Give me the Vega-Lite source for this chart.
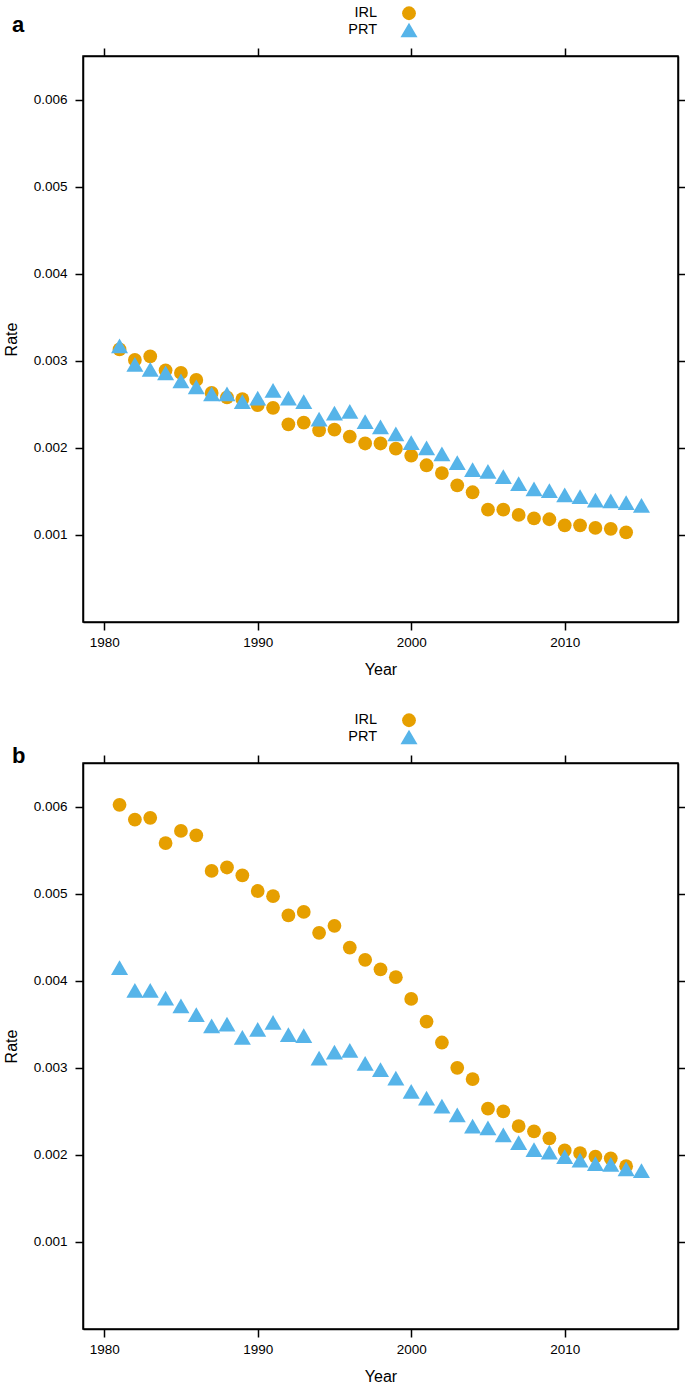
{
  "$schema": "https://vega.github.io/schema/vega-lite/v6.json",
  "background": "white",
  "padding": {"left": 2, "top": 5, "right": 0, "bottom": 0},
  "spacing": 33,
  "config": {
    "font": "Liberation Sans",
    "view": {"stroke": "black", "strokeWidth": 1.5},
    "axis": {"domainColor": "black", "domainWidth": 1.5, "tickColor": "black", "tickWidth": 1.5, "tickSize": 8, "grid": false, "labelFont": "Liberation Sans", "labelFontSize": 13.5, "labelColor": "black", "titleFont": "Liberation Sans", "titleFontSize": 16, "titleFontWeight": "normal", "titleColor": "black"},
    "legend": {"padding": 0}
  },
  "datasets": {
    "rates": [
      {"panel": "a", "country": "IRL", "year": 1981, "rate": 0.00313},
      {"panel": "a", "country": "IRL", "year": 1982, "rate": 0.00301},
      {"panel": "a", "country": "IRL", "year": 1983, "rate": 0.00305},
      {"panel": "a", "country": "IRL", "year": 1984, "rate": 0.00289},
      {"panel": "a", "country": "IRL", "year": 1985, "rate": 0.00286},
      {"panel": "a", "country": "IRL", "year": 1986, "rate": 0.00278},
      {"panel": "a", "country": "IRL", "year": 1987, "rate": 0.00263},
      {"panel": "a", "country": "IRL", "year": 1988, "rate": 0.00258},
      {"panel": "a", "country": "IRL", "year": 1989, "rate": 0.00256},
      {"panel": "a", "country": "IRL", "year": 1990, "rate": 0.00249},
      {"panel": "a", "country": "IRL", "year": 1991, "rate": 0.00246},
      {"panel": "a", "country": "IRL", "year": 1992, "rate": 0.00227},
      {"panel": "a", "country": "IRL", "year": 1993, "rate": 0.00229},
      {"panel": "a", "country": "IRL", "year": 1994, "rate": 0.00220},
      {"panel": "a", "country": "IRL", "year": 1995, "rate": 0.00221},
      {"panel": "a", "country": "IRL", "year": 1996, "rate": 0.00213},
      {"panel": "a", "country": "IRL", "year": 1997, "rate": 0.00205},
      {"panel": "a", "country": "IRL", "year": 1998, "rate": 0.00205},
      {"panel": "a", "country": "IRL", "year": 1999, "rate": 0.00199},
      {"panel": "a", "country": "IRL", "year": 2000, "rate": 0.00191},
      {"panel": "a", "country": "IRL", "year": 2001, "rate": 0.00180},
      {"panel": "a", "country": "IRL", "year": 2002, "rate": 0.00171},
      {"panel": "a", "country": "IRL", "year": 2003, "rate": 0.00157},
      {"panel": "a", "country": "IRL", "year": 2004, "rate": 0.00149},
      {"panel": "a", "country": "IRL", "year": 2005, "rate": 0.00129},
      {"panel": "a", "country": "IRL", "year": 2006, "rate": 0.00129},
      {"panel": "a", "country": "IRL", "year": 2007, "rate": 0.00123},
      {"panel": "a", "country": "IRL", "year": 2008, "rate": 0.00119},
      {"panel": "a", "country": "IRL", "year": 2009, "rate": 0.00118},
      {"panel": "a", "country": "IRL", "year": 2010, "rate": 0.00111},
      {"panel": "a", "country": "IRL", "year": 2011, "rate": 0.00111},
      {"panel": "a", "country": "IRL", "year": 2012, "rate": 0.00108},
      {"panel": "a", "country": "IRL", "year": 2013, "rate": 0.00107},
      {"panel": "a", "country": "IRL", "year": 2014, "rate": 0.00103},
      {"panel": "a", "country": "PRT", "year": 1981, "rate": 0.00317},
      {"panel": "a", "country": "PRT", "year": 1982, "rate": 0.00296},
      {"panel": "a", "country": "PRT", "year": 1983, "rate": 0.00290},
      {"panel": "a", "country": "PRT", "year": 1984, "rate": 0.00286},
      {"panel": "a", "country": "PRT", "year": 1985, "rate": 0.00277},
      {"panel": "a", "country": "PRT", "year": 1986, "rate": 0.00270},
      {"panel": "a", "country": "PRT", "year": 1987, "rate": 0.00262},
      {"panel": "a", "country": "PRT", "year": 1988, "rate": 0.00262},
      {"panel": "a", "country": "PRT", "year": 1989, "rate": 0.00253},
      {"panel": "a", "country": "PRT", "year": 1990, "rate": 0.00257},
      {"panel": "a", "country": "PRT", "year": 1991, "rate": 0.00266},
      {"panel": "a", "country": "PRT", "year": 1992, "rate": 0.00257},
      {"panel": "a", "country": "PRT", "year": 1993, "rate": 0.00253},
      {"panel": "a", "country": "PRT", "year": 1994, "rate": 0.00233},
      {"panel": "a", "country": "PRT", "year": 1995, "rate": 0.00240},
      {"panel": "a", "country": "PRT", "year": 1996, "rate": 0.00242},
      {"panel": "a", "country": "PRT", "year": 1997, "rate": 0.00230},
      {"panel": "a", "country": "PRT", "year": 1998, "rate": 0.00224},
      {"panel": "a", "country": "PRT", "year": 1999, "rate": 0.00216},
      {"panel": "a", "country": "PRT", "year": 2000, "rate": 0.00206},
      {"panel": "a", "country": "PRT", "year": 2001, "rate": 0.00200},
      {"panel": "a", "country": "PRT", "year": 2002, "rate": 0.00193},
      {"panel": "a", "country": "PRT", "year": 2003, "rate": 0.00183},
      {"panel": "a", "country": "PRT", "year": 2004, "rate": 0.00175},
      {"panel": "a", "country": "PRT", "year": 2005, "rate": 0.00173},
      {"panel": "a", "country": "PRT", "year": 2006, "rate": 0.00167},
      {"panel": "a", "country": "PRT", "year": 2007, "rate": 0.00159},
      {"panel": "a", "country": "PRT", "year": 2008, "rate": 0.00153},
      {"panel": "a", "country": "PRT", "year": 2009, "rate": 0.00151},
      {"panel": "a", "country": "PRT", "year": 2010, "rate": 0.00146},
      {"panel": "a", "country": "PRT", "year": 2011, "rate": 0.00144},
      {"panel": "a", "country": "PRT", "year": 2012, "rate": 0.00140},
      {"panel": "a", "country": "PRT", "year": 2013, "rate": 0.00139},
      {"panel": "a", "country": "PRT", "year": 2014, "rate": 0.00137},
      {"panel": "a", "country": "PRT", "year": 2015, "rate": 0.00134},
      {"panel": "b", "country": "IRL", "year": 1981, "rate": 0.00602},
      {"panel": "b", "country": "IRL", "year": 1982, "rate": 0.00585},
      {"panel": "b", "country": "IRL", "year": 1983, "rate": 0.00587},
      {"panel": "b", "country": "IRL", "year": 1984, "rate": 0.00558},
      {"panel": "b", "country": "IRL", "year": 1985, "rate": 0.00572},
      {"panel": "b", "country": "IRL", "year": 1986, "rate": 0.00567},
      {"panel": "b", "country": "IRL", "year": 1987, "rate": 0.00526},
      {"panel": "b", "country": "IRL", "year": 1988, "rate": 0.00530},
      {"panel": "b", "country": "IRL", "year": 1989, "rate": 0.00521},
      {"panel": "b", "country": "IRL", "year": 1990, "rate": 0.00503},
      {"panel": "b", "country": "IRL", "year": 1991, "rate": 0.00497},
      {"panel": "b", "country": "IRL", "year": 1992, "rate": 0.00475},
      {"panel": "b", "country": "IRL", "year": 1993, "rate": 0.00479},
      {"panel": "b", "country": "IRL", "year": 1994, "rate": 0.00455},
      {"panel": "b", "country": "IRL", "year": 1995, "rate": 0.00463},
      {"panel": "b", "country": "IRL", "year": 1996, "rate": 0.00438},
      {"panel": "b", "country": "IRL", "year": 1997, "rate": 0.00424},
      {"panel": "b", "country": "IRL", "year": 1998, "rate": 0.00413},
      {"panel": "b", "country": "IRL", "year": 1999, "rate": 0.00404},
      {"panel": "b", "country": "IRL", "year": 2000, "rate": 0.00379},
      {"panel": "b", "country": "IRL", "year": 2001, "rate": 0.00353},
      {"panel": "b", "country": "IRL", "year": 2002, "rate": 0.00329},
      {"panel": "b", "country": "IRL", "year": 2003, "rate": 0.00300},
      {"panel": "b", "country": "IRL", "year": 2004, "rate": 0.00287},
      {"panel": "b", "country": "IRL", "year": 2005, "rate": 0.00253},
      {"panel": "b", "country": "IRL", "year": 2006, "rate": 0.00250},
      {"panel": "b", "country": "IRL", "year": 2007, "rate": 0.00233},
      {"panel": "b", "country": "IRL", "year": 2008, "rate": 0.00227},
      {"panel": "b", "country": "IRL", "year": 2009, "rate": 0.00219},
      {"panel": "b", "country": "IRL", "year": 2010, "rate": 0.00205},
      {"panel": "b", "country": "IRL", "year": 2011, "rate": 0.00202},
      {"panel": "b", "country": "IRL", "year": 2012, "rate": 0.00198},
      {"panel": "b", "country": "IRL", "year": 2013, "rate": 0.00196},
      {"panel": "b", "country": "IRL", "year": 2014, "rate": 0.00187},
      {"panel": "b", "country": "PRT", "year": 1981, "rate": 0.00415},
      {"panel": "b", "country": "PRT", "year": 1982, "rate": 0.00389},
      {"panel": "b", "country": "PRT", "year": 1983, "rate": 0.00389},
      {"panel": "b", "country": "PRT", "year": 1984, "rate": 0.00380},
      {"panel": "b", "country": "PRT", "year": 1985, "rate": 0.00371},
      {"panel": "b", "country": "PRT", "year": 1986, "rate": 0.00361},
      {"panel": "b", "country": "PRT", "year": 1987, "rate": 0.00348},
      {"panel": "b", "country": "PRT", "year": 1988, "rate": 0.00350},
      {"panel": "b", "country": "PRT", "year": 1989, "rate": 0.00335},
      {"panel": "b", "country": "PRT", "year": 1990, "rate": 0.00344},
      {"panel": "b", "country": "PRT", "year": 1991, "rate": 0.00352},
      {"panel": "b", "country": "PRT", "year": 1992, "rate": 0.00338},
      {"panel": "b", "country": "PRT", "year": 1993, "rate": 0.00337},
      {"panel": "b", "country": "PRT", "year": 1994, "rate": 0.00311},
      {"panel": "b", "country": "PRT", "year": 1995, "rate": 0.00318},
      {"panel": "b", "country": "PRT", "year": 1996, "rate": 0.00320},
      {"panel": "b", "country": "PRT", "year": 1997, "rate": 0.00305},
      {"panel": "b", "country": "PRT", "year": 1998, "rate": 0.00298},
      {"panel": "b", "country": "PRT", "year": 1999, "rate": 0.00288},
      {"panel": "b", "country": "PRT", "year": 2000, "rate": 0.00273},
      {"panel": "b", "country": "PRT", "year": 2001, "rate": 0.00265},
      {"panel": "b", "country": "PRT", "year": 2002, "rate": 0.00256},
      {"panel": "b", "country": "PRT", "year": 2003, "rate": 0.00246},
      {"panel": "b", "country": "PRT", "year": 2004, "rate": 0.00233},
      {"panel": "b", "country": "PRT", "year": 2005, "rate": 0.00231},
      {"panel": "b", "country": "PRT", "year": 2006, "rate": 0.00223},
      {"panel": "b", "country": "PRT", "year": 2007, "rate": 0.00214},
      {"panel": "b", "country": "PRT", "year": 2008, "rate": 0.00206},
      {"panel": "b", "country": "PRT", "year": 2009, "rate": 0.00203},
      {"panel": "b", "country": "PRT", "year": 2010, "rate": 0.00198},
      {"panel": "b", "country": "PRT", "year": 2011, "rate": 0.00194},
      {"panel": "b", "country": "PRT", "year": 2012, "rate": 0.00190},
      {"panel": "b", "country": "PRT", "year": 2013, "rate": 0.00189},
      {"panel": "b", "country": "PRT", "year": 2014, "rate": 0.00184},
      {"panel": "b", "country": "PRT", "year": 2015, "rate": 0.00182}
    ]
  },
  "resolve": {"legend": {"color": "independent", "shape": "independent", "size": "independent"}},
  "vconcat": [
    {
      "width": 595,
      "height": 566,
      "title": {"text": "a", "anchor": "start", "frame": "group", "dx": -71, "dy": 39, "offset": 8, "fontSize": 22, "fontWeight": "bold", "font": "Liberation Sans", "color": "black"},
      "data": {"name": "rates"},
      "transform": [{"filter": "datum.panel === 'a'"}],
      "resolve": {"axis": {"x": "independent", "y": "independent"}},
      "layer": [
        {
          "mark": {"type": "point", "filled": true, "opacity": 1},
          "encoding": {
            "x": {"field": "year", "type": "quantitative", "scale": {"domain": [1978.62, 2017.38], "nice": false, "zero": false}, "axis": {"orient": "bottom", "values": [1980, 1990, 2000, 2010], "format": "d", "title": "Year", "labelPadding": 5, "titlePadding": 13}},
            "y": {"field": "rate", "type": "quantitative", "scale": {"domain": [0, 0.0065], "nice": false, "zero": false}, "axis": {"orient": "left", "values": [0.001, 0.002, 0.003, 0.004, 0.005, 0.006], "format": ".3f", "title": "Rate", "labelPadding": 8, "titlePadding": 14}},
            "color": {"field": "country", "type": "nominal", "scale": {"domain": ["IRL", "PRT"], "range": ["#E69F00", "#56B4E9"]}, "legend": {"orient": "none", "legendX": 317, "legendY": -50, "title": null, "labelAlign": "right", "labelOffset": -41, "labelFontSize": 14.5, "labelColor": "black", "symbolStrokeWidth": 0, "rowPadding": -2}},
            "shape": {"field": "country", "type": "nominal", "scale": {"domain": ["IRL", "PRT"], "range": ["circle", "triangle-up"]}, "legend": {"orient": "none", "legendX": 317, "legendY": -50, "title": null, "labelAlign": "right", "labelOffset": -41, "labelFontSize": 14.5, "labelColor": "black", "symbolStrokeWidth": 0, "rowPadding": -2}},
            "size": {"field": "country", "type": "nominal", "scale": {"domain": ["IRL", "PRT"], "range": [190, 290]}, "legend": {"orient": "none", "legendX": 317, "legendY": -50, "title": null, "labelAlign": "right", "labelOffset": -41, "labelFontSize": 14.5, "labelColor": "black", "symbolStrokeWidth": 0, "rowPadding": -2}}
          }
        },
        {
          "mark": {"type": "point", "opacity": 0},
          "encoding": {
            "x": {"field": "year", "type": "quantitative", "axis": {"orient": "top", "values": [1980, 1990, 2000, 2010], "labels": false, "title": null}},
            "y": {"field": "rate", "type": "quantitative", "axis": {"orient": "right", "values": [0.001, 0.002, 0.003, 0.004, 0.005, 0.006], "labels": false, "title": null}}
          }
        }
      ]
    },
    {
      "width": 595,
      "height": 566,
      "title": {"text": "b", "anchor": "start", "frame": "group", "dx": -71, "dy": 63, "offset": 8, "fontSize": 22, "fontWeight": "bold", "font": "Liberation Sans", "color": "black"},
      "data": {"name": "rates"},
      "transform": [{"filter": "datum.panel === 'b'"}],
      "resolve": {"axis": {"x": "independent", "y": "independent"}},
      "layer": [
        {
          "mark": {"type": "point", "filled": true, "opacity": 1},
          "encoding": {
            "x": {"field": "year", "type": "quantitative", "scale": {"domain": [1978.62, 2017.38], "nice": false, "zero": false}, "axis": {"orient": "bottom", "values": [1980, 1990, 2000, 2010], "format": "d", "title": "Year", "labelPadding": 5, "titlePadding": 13}},
            "y": {"field": "rate", "type": "quantitative", "scale": {"domain": [0, 0.0065], "nice": false, "zero": false}, "axis": {"orient": "left", "values": [0.001, 0.002, 0.003, 0.004, 0.005, 0.006], "format": ".3f", "title": "Rate", "labelPadding": 8, "titlePadding": 14}},
            "color": {"field": "country", "type": "nominal", "scale": {"domain": ["IRL", "PRT"], "range": ["#E69F00", "#56B4E9"]}, "legend": {"orient": "none", "legendX": 317, "legendY": -50, "title": null, "labelAlign": "right", "labelOffset": -41, "labelFontSize": 14.5, "labelColor": "black", "symbolStrokeWidth": 0, "rowPadding": -2}},
            "shape": {"field": "country", "type": "nominal", "scale": {"domain": ["IRL", "PRT"], "range": ["circle", "triangle-up"]}, "legend": {"orient": "none", "legendX": 317, "legendY": -50, "title": null, "labelAlign": "right", "labelOffset": -41, "labelFontSize": 14.5, "labelColor": "black", "symbolStrokeWidth": 0, "rowPadding": -2}},
            "size": {"field": "country", "type": "nominal", "scale": {"domain": ["IRL", "PRT"], "range": [190, 290]}, "legend": {"orient": "none", "legendX": 317, "legendY": -50, "title": null, "labelAlign": "right", "labelOffset": -41, "labelFontSize": 14.5, "labelColor": "black", "symbolStrokeWidth": 0, "rowPadding": -2}}
          }
        },
        {
          "mark": {"type": "point", "opacity": 0},
          "encoding": {
            "x": {"field": "year", "type": "quantitative", "axis": {"orient": "top", "values": [1980, 1990, 2000, 2010], "labels": false, "title": null}},
            "y": {"field": "rate", "type": "quantitative", "axis": {"orient": "right", "values": [0.001, 0.002, 0.003, 0.004, 0.005, 0.006], "labels": false, "title": null}}
          }
        }
      ]
    }
  ]
}
